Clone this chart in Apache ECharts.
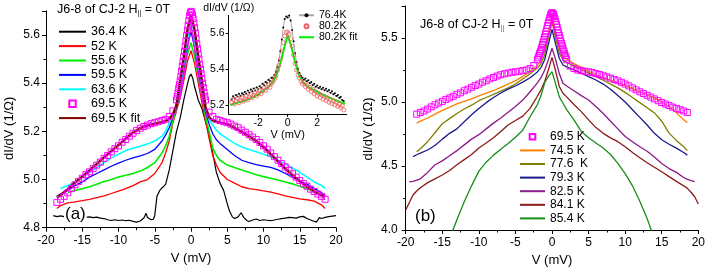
<!DOCTYPE html>
<html><head><meta charset="utf-8">
<script src="https://cdn.jsdelivr.net/npm/echarts@6/dist/echarts.min.js"></script>
<style>html,body{margin:0;padding:0;background:#fff}#c{width:708px;height:273px}</style>
</head><body><div id="c"></div>
<script>
// ---------------- Panel (a) data ----------------
const Va = [-18.5,-18,-17,-16,-15,-14,-13,-12,-11,-10,-9,-8,-7,-6,-5,-4,-3.5,-3,-2.5,-2,-1.5,-1,-0.5,0,0.5,1,1.5,2,2.5,3,3.5,4,5,6,7,8,9,10,11,12,13,14,15,16,17,18,18.5];
const K52 = [4.880,4.892,4.903,4.907,4.912,4.918,4.925,4.932,4.942,4.952,4.962,4.975,4.990,5.000,5.025,5.070,5.110,5.160,5.235,5.285,5.340,5.410,5.490,5.535,5.480,5.400,5.320,5.245,5.170,5.100,5.060,5.030,5.000,4.985,4.970,4.962,4.958,4.953,4.948,4.940,4.932,4.926,4.920,4.916,4.910,4.895,4.880];
const K556 = [null,null,4.945,4.955,4.962,4.970,4.980,4.992,5.000,5.010,5.018,5.025,5.035,5.050,5.070,5.110,5.140,5.180,5.245,5.295,5.360,5.440,5.520,5.568,5.510,5.430,5.350,5.260,5.200,5.130,5.100,5.080,5.060,5.050,5.040,5.030,5.020,5.012,5.005,4.998,4.990,4.982,4.972,4.962,4.952,4.935,4.915];
const K595 = [4.930,4.940,4.955,4.975,4.990,5.010,5.025,5.040,5.055,5.068,5.080,5.090,5.098,5.108,5.125,5.160,5.185,5.215,5.260,5.300,5.370,5.460,5.560,5.614,5.550,5.450,5.370,5.280,5.230,5.190,5.165,5.150,5.125,5.100,5.080,5.070,5.062,5.056,5.050,5.040,5.025,5.010,4.995,4.980,4.962,4.945,4.936];
const K636 = [null,4.963,4.975,4.990,5.010,5.030,5.050,5.070,5.090,5.105,5.120,5.130,5.138,5.148,5.160,5.180,5.200,5.235,5.265,5.310,5.380,5.480,5.580,5.641,5.575,5.480,5.390,5.290,5.250,5.225,5.205,5.190,5.170,5.150,5.135,5.125,5.115,5.105,5.095,5.080,5.065,5.048,5.030,5.010,4.990,4.975,4.963];
const K695fit = [4.925,4.935,4.960,4.988,5.012,5.038,5.065,5.092,5.118,5.143,5.170,5.195,5.213,5.225,5.232,5.238,5.243,5.252,5.270,5.310,5.410,5.510,5.620,5.683,5.620,5.510,5.410,5.300,5.258,5.245,5.240,5.236,5.230,5.215,5.198,5.180,5.160,5.135,5.105,5.075,5.045,5.018,4.993,4.970,4.950,4.935,4.929];

const Vk = [-19,-18.5,-18,-17.5,-17,-16.5,-16,-15.5,-15,-14.5,-14,-13.5,-13,-12.5,-12,-11.5,-11,-10.5,-10,-9.5,-9,-8.5,-8,-7.5,-7,-6.5,-6.2,-6,-5.5,-5.2,-5,-4.7,-4.3,-4,-3.5,-3,-2.5,-2,-1.5,-1,-0.5,-0.25,0,0.25,0.5,1,1.5,2,2.5,3,3.5,4,4.5,5,5.3,5.7,6,6.5,6.9,7.3,7.7,8,8.5,9,9.5,10,10.5,11,11.5,12,12.5,13,13.5,14,14.5,15,15.5,16,16.5,17,17.3,17.7,18,18.5,19,19.5,20];
const K364 = [4.850,4.846,4.849,4.846,4.848,4.845,4.847,4.844,4.846,4.843,4.845,4.842,4.844,4.840,4.838,4.833,4.830,4.833,4.830,4.832,4.829,4.831,4.826,4.823,4.828,4.840,4.860,4.842,4.833,4.835,4.850,4.930,4.955,4.965,4.980,5.040,5.120,5.200,5.255,5.330,5.395,5.425,5.438,5.420,5.385,5.330,5.295,5.240,5.190,5.110,5.030,4.985,4.955,4.900,4.870,4.845,4.838,4.845,4.862,4.842,4.830,4.826,4.832,4.836,4.830,4.833,4.831,4.829,4.832,4.835,4.838,4.840,4.843,4.842,4.840,4.845,4.847,4.838,4.832,4.826,4.823,4.842,4.838,4.843,4.846,4.848,4.850];

const V695 = [-18.5,-18,-17.5,-17,-16.5,-16,-15.5,-15,-14.5,-14,-13.5,-13,-12.5,-12,-11.5,-11,-10.5,-10,-9.5,-9,-8.5,-8,-7.5,-7,-6.5,-6,-5.5,-5,-4.5,-4,-3.5,-3,-2.5,
 -2.0,-1.9,-1.8,-1.7,-1.6,-1.5,-1.4,-1.3,-1.2,-1.1,-1.0,-0.9,-0.8,-0.7,-0.6,-0.5,-0.4,-0.3,-0.2,-0.1,0,0.1,0.2,0.3,0.4,0.5,0.6,0.7,0.8,0.9,1.0,1.1,1.2,1.3,1.4,1.5,1.6,1.7,1.8,1.9,2.0,
 2.5,3,3.5,4,4.5,5,5.5,6,6.5,7,7.5,8,8.5,9,9.5,10,10.5,11,11.5,12,12.5,13,13.5,14,14.5,15,15.5,16,16.5,17,17.5,18,18.5];
const K695 = [4.905,4.918,4.930,4.945,4.962,4.978,4.992,5.005,5.020,5.032,5.045,5.060,5.072,5.088,5.100,5.115,5.128,5.140,5.155,5.166,5.180,5.192,5.203,5.213,5.220,5.226,5.232,5.236,5.240,5.245,5.250,5.262,5.285,
 5.330,5.345,5.360,5.378,5.393,5.410,5.428,5.450,5.470,5.490,5.510,5.532,5.553,5.575,5.598,5.620,5.640,5.660,5.680,5.693,5.698,5.694,5.684,5.668,5.650,5.630,5.608,5.585,5.563,5.542,5.520,5.500,5.478,5.458,5.440,5.420,5.400,5.382,5.363,5.345,5.330,
 5.280,5.262,5.250,5.245,5.240,5.236,5.230,5.222,5.215,5.205,5.196,5.186,5.176,5.166,5.154,5.140,5.126,5.110,5.095,5.080,5.066,5.052,5.038,5.024,5.010,4.996,4.984,4.972,4.960,4.950,4.940,4.930,4.918];

// ---------------- Inset data ----------------
const Vi = [-3.8,-3.7,-3.6,-3.5,-3.4,-3.3,-3.2,-3.1,-3.0,-2.9,-2.8,-2.7,-2.6,-2.5,-2.4,-2.3,-2.2,-2.1,-2.0,-1.9,-1.8,-1.7,-1.6,-1.5,-1.4,-1.3,-1.2,-1.1,-1.0,-0.9,-0.8,-0.7,-0.6,-0.5,-0.4,-0.3,-0.2,-0.1,0,0.1,0.2,0.3,0.4,0.5,0.6,0.7,0.8,0.9,1.0,1.1,1.2,1.3,1.4,1.5,1.6,1.7,1.8,1.9,2.0,2.1,2.2,2.3,2.4,2.5,2.6,2.7,2.8,2.9,3.0,3.1,3.2,3.3,3.4,3.5,3.6,3.7,3.8];
const I764 = [5.232,5.248,5.238,5.255,5.247,5.262,5.250,5.266,5.258,5.272,5.262,5.280,5.268,5.286,5.276,5.292,5.281,5.298,5.288,5.305,5.296,5.318,5.310,5.328,5.322,5.340,5.334,5.352,5.350,5.368,5.385,5.412,5.448,5.500,5.565,5.632,5.680,5.694,5.688,5.700,5.672,5.618,5.556,5.488,5.440,5.402,5.378,5.362,5.352,5.340,5.348,5.332,5.338,5.322,5.328,5.312,5.318,5.302,5.308,5.294,5.302,5.288,5.296,5.282,5.290,5.276,5.284,5.268,5.276,5.260,5.266,5.250,5.256,5.240,5.244,5.228,5.222];
const I802 = [5.215,5.228,5.205,5.222,5.235,5.212,5.228,5.240,5.220,5.235,5.248,5.228,5.245,5.258,5.240,5.255,5.268,5.250,5.265,5.280,5.262,5.278,5.295,5.282,5.300,5.312,5.298,5.318,5.330,5.345,5.362,5.392,5.420,5.455,5.500,5.548,5.585,5.605,5.608,5.598,5.570,5.528,5.478,5.432,5.395,5.368,5.350,5.332,5.318,5.325,5.302,5.310,5.288,5.298,5.275,5.288,5.262,5.275,5.250,5.265,5.242,5.255,5.232,5.248,5.225,5.240,5.215,5.230,5.208,5.222,5.200,5.215,5.192,5.205,5.185,5.195,5.172];
const Vg = [-3.9,-3.5,-3,-2.5,-2,-1.5,-1.25,-1,-0.75,-0.5,-0.25,0,0.25,0.5,0.75,1,1.25,1.5,2,2.5,3,3.5,3.9];
const I802fit = [5.200,5.210,5.222,5.238,5.258,5.288,5.305,5.330,5.370,5.430,5.515,5.590,5.525,5.440,5.370,5.330,5.310,5.295,5.272,5.252,5.235,5.218,5.207];

// ---------------- Panel (b) data ----------------
const Vb = [-20,-19.5,-19,-18.5,-18,-17,-16,-15,-14,-13,-12,-11,-10,-9,-8,-7,-6,-5,-4,-3,-2,-1.5,-1,-0.5,0,0.5,1,1.5,2,3,4,5,6,7,8,9,10,11,12,13,14,15,16,17,18,18.5,19,19.5,20];
const B745 = [null,null,null,4.835,4.850,4.875,4.905,4.935,4.960,4.985,5.005,5.025,5.048,5.070,5.090,5.115,5.140,5.165,5.200,5.240,5.285,5.330,5.400,5.540,5.680,5.550,5.410,5.354,5.335,5.300,5.270,5.240,5.211,5.190,5.170,5.150,5.130,5.105,5.080,5.055,5.030,5.000,4.965,4.915,4.862,4.838,null,null,null];
const B776 = [null,null,null,4.612,4.635,4.690,4.760,4.830,4.870,4.910,4.945,4.975,5.010,5.035,5.060,5.085,5.110,5.140,5.180,5.220,5.265,5.300,5.370,5.500,5.627,5.500,5.380,5.328,5.310,5.280,5.255,5.225,5.198,5.170,5.140,5.110,5.075,5.035,4.995,4.955,4.915,4.850,4.757,4.700,4.650,4.620,null,null,null];
const B793 = [null,null,4.573,4.588,4.600,4.625,4.660,4.710,4.755,4.790,4.845,4.900,4.950,4.995,5.035,5.070,5.100,5.125,5.155,5.190,5.235,5.270,5.330,5.450,5.568,5.450,5.340,5.289,5.275,5.250,5.225,5.198,5.172,5.140,5.100,5.050,5.000,4.940,4.880,4.820,4.755,4.705,4.670,4.640,4.605,4.585,null,null,null];
const B825 = [null,4.377,4.380,4.390,4.400,4.450,4.510,4.540,4.580,4.620,4.665,4.710,4.745,4.790,4.835,4.875,4.920,4.965,5.015,5.080,5.150,5.190,5.250,5.330,5.420,5.330,5.220,5.146,5.125,5.088,5.050,5.016,4.965,4.910,4.850,4.790,4.730,4.690,4.650,4.615,4.570,4.520,4.480,4.450,4.410,4.395,4.385,4.377,null];
const B841 = [4.156,4.215,4.273,4.305,4.330,4.370,4.400,4.430,4.465,4.510,4.550,4.590,4.640,4.680,4.720,4.770,4.820,4.855,4.890,4.950,5.045,5.095,5.160,5.250,5.349,5.240,5.120,5.068,5.040,4.980,4.925,4.860,4.800,4.755,4.720,4.690,4.650,4.605,4.565,4.525,4.490,4.455,4.417,4.380,4.345,4.325,4.295,4.260,4.203];
const B854 = [null,null,null,null,null,null,null,null,3.930,4.080,4.220,4.345,4.460,4.530,4.585,4.630,4.675,4.725,4.780,4.885,4.980,5.050,5.150,5.200,5.237,5.140,5.040,4.990,4.940,4.860,4.770,4.720,4.680,4.640,4.590,4.520,4.440,4.345,4.225,4.090,3.930,null,null,null,null,null,null,null,null];

// tick / legend labels
const legendA = ['36.4 K','52 K','55.6 K','59.5 K','63.6 K','69.5 K','69.5 K fit'];
const legendI = ['76.4K','80.2K','80.2K fit'];
const legendB = ['69.5 K','74.5 K','77.6  K','79.3 K','82.5 K','84.1 K','85.4 K'];
const markerNames = ['69.5 K','76.4K','80.2K'];
const insetXTicks = [-2,0,2];
const insetYTicks = [5.2,5.4,5.6];

const FONT = '"Liberation Sans", Arial, Helvetica, sans-serif';
function pairs(xs, ys){ const out=[]; for(let i=0;i<xs.length;i++){ if(ys[i]!=null) out.push([xs[i], ys[i]]); } return out; }
function legendItems(names){ return names.map(n => markerNames.indexOf(n) >= 0 ? n : {name:n, itemStyle:{opacity:0}}); }

function xAx(grid, min, max, interval, nameGap, fs){
  return {gridIndex:grid, type:'value', min:min, max:max, interval:interval,
    axisLine:{show:true, onZero:false, lineStyle:{color:'#000', width:1}},
    axisTick:{show:true, length:4, lineStyle:{color:'#000', width:1}},
    minorTick:{show:true, splitNumber:2, length:2.5, lineStyle:{color:'#000', width:1}},
    axisLabel:{color:'#000', fontSize:fs, margin:7, fontFamily:FONT},
    splitLine:{show:false}, minorSplitLine:{show:false},
    name:'V (mV)', nameLocation:'middle', nameGap:nameGap,
    nameTextStyle:{color:'#000', fontSize:13, fontFamily:FONT}};
}
function yAx(grid, min, max, interval, nameGap, pad, margin){
  return {gridIndex:grid, type:'value', min:min, max:max, interval:interval,
    axisLine:{show:true, onZero:false, lineStyle:{color:'#000', width:1}},
    axisTick:{show:true, length:4, lineStyle:{color:'#000', width:1}},
    minorTick:{show:true, splitNumber:2, length:2.5, lineStyle:{color:'#000', width:1}},
    axisLabel:{color:'#000', fontSize:12, margin:margin, fontFamily:FONT, showMaxLabel:false,
      formatter:function(v){return v.toFixed(1);}},
    splitLine:{show:false}, minorSplitLine:{show:false},
    name:'dI/dV (1/\u03A9)', nameLocation:'middle', nameGap:nameGap,
    nameTextStyle:{color:'#000', fontSize:13, fontFamily:FONT, padding:pad}};
}

function lineS(name, xi, yi, xs, ys, color, w, z){
  return {name:name, type:'line', xAxisIndex:xi, yAxisIndex:yi, data:pairs(xs, ys),
    symbol:'none', lineStyle:{color:color, width:w}, itemStyle:{color:color},
    emphasis:{disabled:true}, z:z||2, animation:false};
}
function sqS(xi, yi, z){
  return {name:'69.5 K', type:'line', xAxisIndex:xi, yAxisIndex:yi, data:pairs(V695, K695),
    symbol:'rect', symbolSize:6, showSymbol:true,
    lineStyle:{opacity:0, color:'#ff00ff'},
    itemStyle:{color:'rgba(255,255,255,0)', borderColor:'#ff00ff', borderWidth:1},
    emphasis:{disabled:true}, z:z||2, animation:false};
}

const chart = echarts.init(document.getElementById('c'), null, {renderer:'canvas'});
chart.setOption({
  animation:false,
  backgroundColor:'#fff',
  textStyle:{fontFamily:FONT},
  grid:[
    {left:46, top:10.9, width:290, height:216.8, containLabel:false},
    {left:228.7, top:15.4, width:118, height:98.5, containLabel:false, show:true, backgroundColor:'#fff', borderWidth:0, z:10},
    {left:405.7, top:6, width:293.6, height:224, containLabel:false}
  ],
  xAxis:[
    xAx(0, -20, 20, 5, 23, 12),
    {gridIndex:1, type:'value', min:-4, max:4, z:12,
      axisLine:{show:true, onZero:false, lineStyle:{color:'#000', width:1}},
      axisTick:{show:true, length:3, customValues:insetXTicks, lineStyle:{color:'#000'}},
      axisLabel:{color:'#000', fontSize:10.5, margin:4, fontFamily:FONT, customValues:insetXTicks},
      splitLine:{show:false},
      name:'V (mV)', nameLocation:'middle', nameGap:16,
      nameTextStyle:{color:'#000', fontSize:11, fontFamily:FONT}},
    xAx(2, -20, 20, 5, 23, 12)
  ],
  yAxis:[
    yAx(0, 4.8, 5.7, 0.2, 30, [0,18,0,0], 6),
    {gridIndex:1, type:'value', min:5.15, max:5.7, z:12,
      axisLine:{show:true, onZero:false, lineStyle:{color:'#000', width:1}},
      axisTick:{show:true, length:3, customValues:insetYTicks, lineStyle:{color:'#000'}},
      axisLabel:{color:'#000', fontSize:10.5, margin:4, fontFamily:FONT, customValues:insetYTicks,
        formatter:function(v){return v.toFixed(1);}},
      splitLine:{show:false},
      name:'dI/dV (1/\u03A9)', nameLocation:'end', nameGap:2,
      nameTextStyle:{color:'#000', fontSize:10.5, fontFamily:FONT}},
    yAx(2, 4.0, 5.75, 0.5, 31, [0,22,0,0], 8)
  ],
  title:[
    {text:'{a|J6-8 of CJ-2 H}{s|||}{a| = 0T}', left:57, top:2, padding:0, z:20,
      textStyle:{fontWeight:'normal', rich:{a:{fontSize:12.5, fontWeight:'normal', color:'#000', fontFamily:FONT, lineHeight:15},
                       s:{fontSize:7, fontWeight:'normal', color:'#000', fontFamily:FONT, lineHeight:9, verticalAlign:'bottom'}}}},
    {text:'(a)', left:64, top:206, padding:[0,1], backgroundColor:'#fff', z:20,
      textStyle:{fontSize:17, fontWeight:'normal', color:'#000', fontFamily:FONT}},
    {text:'{a|J6-8 of CJ-2 H}{s|||}{a| = 0T}', left:420, top:17, padding:0, z:20,
      textStyle:{fontWeight:'normal', rich:{a:{fontSize:12.5, fontWeight:'normal', color:'#000', fontFamily:FONT, lineHeight:15},
                       s:{fontSize:7, color:'#999', fontWeight:'bold', fontFamily:FONT, lineHeight:9, verticalAlign:'bottom'}}}},
    {text:'(b)', left:414, top:208, padding:[0,1], backgroundColor:'#fff', z:20,
      textStyle:{fontSize:17, fontWeight:'normal', color:'#000', fontFamily:FONT}}
  ],
  legend:[
    {data:legendItems(legendA), orient:'vertical', left:58, top:24.5, itemWidth:27, itemHeight:8, itemGap:0, padding:0,
      selectedMode:false, textStyle:{fontSize:12.5, lineHeight:14.4, color:'#000', fontFamily:FONT}},
    {data:legendItems(legendI), orient:'vertical', left:298, top:9.75, itemWidth:15, itemHeight:5, itemGap:0, padding:0, z:20,
      selectedMode:false, textStyle:{fontSize:10.5, lineHeight:10.5, color:'#000', fontFamily:FONT}},
    {data:legendItems(legendB), orient:'vertical', left:519, top:130, itemWidth:25, itemHeight:7, itemGap:0, padding:0,
      selectedMode:false, textStyle:{fontSize:12, lineHeight:13.6, color:'#000', fontFamily:FONT}}
  ],
  series:[
    lineS('36.4 K', 0, 0, Vk, K364, '#000000', 1.2),
    lineS('52 K', 0, 0, Va, K52, '#ff0000', 1.3),
    lineS('55.6 K', 0, 0, Va, K556, '#00ee00', 1.6),
    lineS('59.5 K', 0, 0, Va, K595, '#0000ff', 1.3),
    lineS('63.6 K', 0, 0, Va, K636, '#00ffff', 1.6),
    sqS(0, 0),
    lineS('69.5 K fit', 0, 0, Va, K695fit, '#800000', 2.5),
    // inset
    {name:'76.4K', type:'line', xAxisIndex:1, yAxisIndex:1, data:pairs(Vi, I764),
      symbol:'circle', symbolSize:2, showSymbol:true, lineStyle:{color:'#aaaaaa', width:1},
      itemStyle:{color:'#000'}, emphasis:{disabled:true}, z:11},
    {name:'80.2K', type:'line', xAxisIndex:1, yAxisIndex:1, data:pairs(Vi, I802),
      symbol:'circle', symbolSize:4, showSymbol:true, lineStyle:{opacity:0, color:'#f06060'},
      itemStyle:{color:'rgba(255,255,255,0)', borderColor:'#f06060', borderWidth:0.8}, emphasis:{disabled:true}, z:11},
    lineS('80.2K fit', 1, 1, Vg, I802fit, '#00ee00', 2, 11),
    // panel b
    lineS('74.5 K', 2, 2, Vb, B745, '#ff8000', 1.3),
    lineS('77.6  K', 2, 2, Vb, B776, '#808000', 1.3),
    lineS('79.3 K', 2, 2, Vb, B793, '#1a1a8c', 1.3),
    lineS('82.5 K', 2, 2, Vb, B825, '#8b1a8b', 1.3),
    lineS('84.1 K', 2, 2, Vb, B841, '#8b1a1a', 1.3),
    lineS('85.4 K', 2, 2, Vb, B854, '#1a8c1a', 1.3),
    sqS(2, 2, 3)
  ]
});
</script></body></html>
